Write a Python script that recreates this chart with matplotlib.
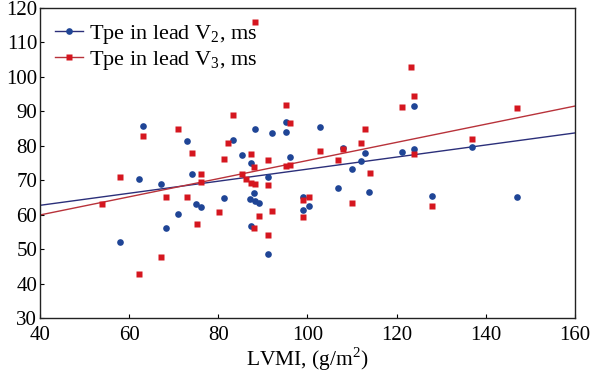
import matplotlib
matplotlib.use("Agg")
import matplotlib.pyplot as plt

plt.rcParams['font.family'] = ['Liberation Serif', 'DejaVu Serif']
plt.rcParams['mathtext.fontset'] = 'custom'
plt.rcParams['mathtext.rm'] = 'Liberation Serif'

# V2 (blue circles)
v2_x = [58, 62.2, 63.1, 67.1, 68.2, 71, 73, 74.1, 75, 76.1, 81.3, 83.3, 85.3, 87.1, 87.3, 87.3,
        88.1, 88.2, 88.2, 89.2, 91.1, 91.1, 92, 95.2, 95.2, 96.1, 99.1, 99.1, 100.3, 102.8,
        106.9, 107.9, 110, 112, 112.9, 113.8, 121.2, 123.9, 123.9, 127.9, 136.9, 147]
v2_y = [52.2, 70.3, 85.8, 68.9, 56.2, 60.2, 81.4, 71.8, 63.1, 62.3, 64.9, 81.7, 77.3, 64.6, 75, 56.8,
        66.3, 64, 84.9, 63.4, 71, 48.7, 83.7, 86.9, 84, 76.6, 65.1, 61.4, 62.6, 85.5,
        67.7, 79.4, 73.2, 75.6, 77.9, 66.6, 78.2, 91.5, 79, 65.4, 79.7, 65.1]

# V3 (red squares)
v3_x = [54, 58, 62.2, 63.1, 67.1, 68.2, 71, 73, 74.1, 75.2, 76.1, 76.1, 80.2, 81.3, 82.2, 83.3,
        85.3, 86.2, 87.3, 87.3, 88.1, 88.2, 88.1, 88.2, 89.2, 91.1, 91.1, 91.1, 92.1, 95.2,
        95.2, 96.1, 96.1, 99.1, 99.1, 100.3, 102.8, 106.9, 107.9, 110, 112, 112.9, 114,
        121.2, 123.3, 123.9, 123.9, 127.9, 136.9, 147]
v3_y = [63.1, 70.9, 42.8, 82.8, 47.7, 65.2, 84.9, 65.2, 77.9, 57.3, 71.8, 69.5, 60.8, 76.2, 80.8, 89,
        71.8, 70.3, 77.6, 69.1, 73.7, 69, 56.1, 116, 59.7, 75.9, 68.6, 54.1, 61.1, 91.8,
        74, 86.7, 74.5, 64.3, 59.3, 65.2, 78.5, 75.9, 79.1, 63.3, 80.8, 84.9, 72.1,
        91.3, 102.9, 94.4, 77.6, 62.5, 82, 90.9]

# regression lines (endpoints)
trend_x = [40, 160]
v2_trend = [62.7, 83.7]
v3_trend = [59.9, 91.5]

labels = ['Tpe in lead V$_2$, ms', 'Tpe in lead V$_3$, ms']
x_ticks = [40, 60, 80, 100, 120, 140, 160]
y_ticks = [30, 40, 50, 60, 70, 80, 90, 100, 110, 120]

fig = plt.figure(figsize=(5.92, 3.75), dpi=100)
ax = fig.add_axes([0.0676, 0.152, 0.9034, 0.827])

blue = '#1f4596'
red = '#d5161f'
blue_line = '#2b2f7a'
red_line = '#b8323a'

ax.plot(trend_x, v2_trend, color=blue_line, lw=1.0, zorder=2)
ax.plot(trend_x, v3_trend, color=red_line, lw=1.0, zorder=2)
ax.plot(v2_x, v2_y, 'o', color=blue, ms=4.8, mec='none', zorder=3)
ax.plot(v3_x, v3_y, 's', color=red, ms=5.0, mec='none', zorder=3)

from matplotlib.lines import Line2D
h1 = Line2D([0], [0], color=blue_line, lw=1.0, marker='o', mfc=blue, mec='none', ms=4.8)
h2 = Line2D([0], [0], color=red_line, lw=1.0, marker='s', mfc=red, mec='none', ms=5.0)
ax.legend([h1, h2], labels, loc='upper left', frameon=False, fontsize=16,
          handlelength=1.25, handletextpad=0.25, labelspacing=0.12,
          borderaxespad=0.0, bbox_to_anchor=(0.012, 0.98))

ax.set_xlim(40, 160)
ax.set_ylim(30, 120)
ax.set_xticks(x_ticks)
ax.set_yticks(y_ticks)
ax.tick_params(direction='in', length=3, width=0.8, labelsize=15)
ax.tick_params(axis='x', pad=6)
ax.tick_params(axis='y', pad=2)
for s in ax.spines.values():
    s.set_linewidth(1.0)
    s.set_color('#222222')
ax.set_xlabel('LVMI, (g/m$^2$)', fontsize=15.5, labelpad=0)

fig.savefig('out.png', dpi=100)
